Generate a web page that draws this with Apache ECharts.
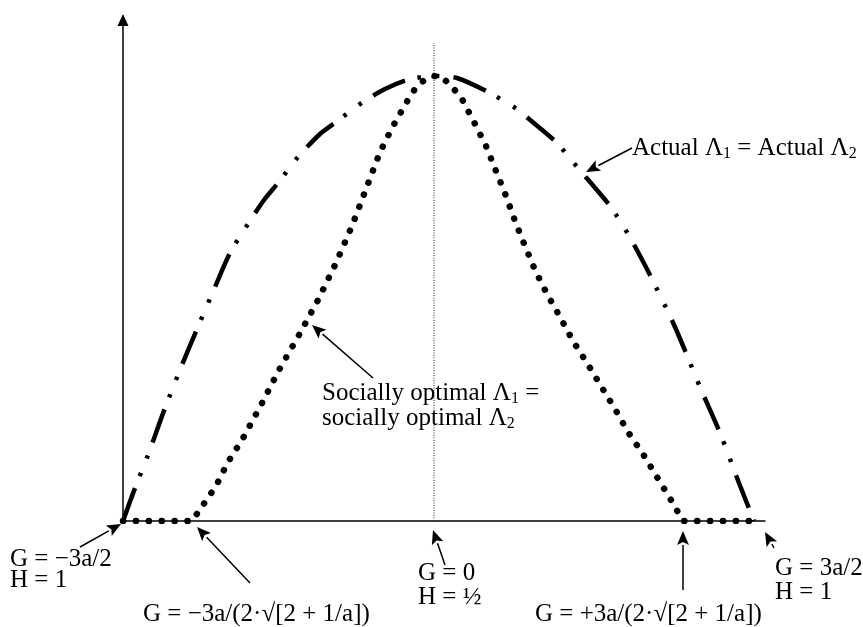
<!DOCTYPE html>
<html>
<head>
<meta charset="utf-8">
<script src="https://cdn.jsdelivr.net/npm/echarts@6/dist/echarts.min.js"></script>
<style>
  html, body { margin: 0; padding: 0; background: #fff; }
  #chart { width: 863px; height: 627px; }
</style>
</head>
<body>
<div id="chart"></div>
<script>
// x: horizontal position relative to G = 0, y: height above the G axis
var actualCurve = [
  [-311, 0], [-299, 33], [-286, 66], [-269, 113], [-252, 156], [-234, 199], [-219, 234],
  [-204, 268], [-186, 297], [-170, 321], [-156, 338], [-136, 364], [-114, 387], [-98, 399],
  [-71, 419], [-49, 432], [-27, 441], [0, 445], [23, 443], [54, 429], [83, 412], [95, 402],
  [122, 379], [144, 353], [176, 315], [194, 287], [216, 246], [241, 194], [266, 134],
  [286, 88], [305, 38], [320, 0]
];
var sociallyCurve = [
  [-311, 0], [-242, 0], [-233, 13], [-218, 35], [-206, 59], [-192, 81], [-173, 116],
  [-155, 151], [-135, 186], [-116, 221], [-98, 258], [-82, 295], [-68, 332], [-54, 369],
  [-42, 393], [-29, 416], [-22, 428], [-14, 438], [-4, 444], [0, 445], [9, 443], [19, 433],
  [28, 422], [40, 399], [52, 375], [62, 350], [72, 325], [81, 300], [91, 275], [101, 251],
  [113, 227], [126, 204], [139, 180], [153, 158], [167, 135], [181, 112], [194, 89],
  [209, 67], [223, 44], [237, 21], [249, 0], [317, 0]
];
var centerLine = [[0, 0], [0, 478]];
var xRange = [-311, 331];
var yRange = [0, 501];

var fontFam = '"Liberation Serif", "Times New Roman", serif';
var fs = 25;

// annotation labels: text, left x, middle y (pixels)
var labels = [
  ['G = \u22123a/2', 10, 559],
  ['H = 1', 10, 580],
  ['G = \u22123a/(2\u00b7\u221a[2 + 1/a])', 143, 614],
  ['G = 0', 418, 573],
  ['H = \u00bd', 418, 597],
  ['G = +3a/(2\u00b7\u221a[2 + 1/a])', 535, 614],
  ['G = 3a/2', 775, 568],
  ['H = 1', 775, 592],
  ['Actual \u039b{s|1} = Actual \u039b{s|2}', 632, 148],
  ['Socially optimal \u039b{s|1} =', 322, 393],
  ['socially optimal \u039b{s|2}', 322, 418]
];
// annotation arrows: tail x, tail y, tip x, tip y (pixels)
var arrows = [
  [80, 547, 121, 524],
  [250, 583, 197, 527],
  [445, 565, 433, 530],
  [683, 590, 683, 531],
  [774, 548, 765, 532],
  [632, 148, 586, 172],
  [373, 378, 312, 325]
];

function arrowParts(a) {
  var dx = a[2] - a[0], dy = a[3] - a[1];
  var len = Math.sqrt(dx * dx + dy * dy);
  var ux = dx / len, uy = dy / len;
  var hl = 14, hw = 6;
  var bx = a[2] - ux * hl, by = a[3] - uy * hl;
  var parts = [];
  if (len > hl) {
    parts.push({
      type: 'line', silent: true,
      shape: { x1: a[0], y1: a[1], x2: bx, y2: by },
      style: { stroke: '#000', lineWidth: 1.5 }
    });
  }
  parts.push({
    type: 'polygon', silent: true,
    shape: { points: [[a[2], a[3]], [bx - uy * hw, by + ux * hw], [bx + ux * 3, by + uy * 3], [bx + uy * hw, by - ux * hw]] },
    style: { fill: '#000' }
  });
  return parts;
}

var graphics = [];
labels.forEach(function (l) {
  graphics.push({
    type: 'text', silent: true, x: l[1], y: l[2],
    style: {
      text: l[0], fill: '#000', font: fs + 'px ' + fontFam,
      align: 'left', verticalAlign: 'middle', lineHeight: 28,
      rich: { s: { fontSize: 16, fontFamily: fontFam, verticalAlign: 'bottom', lineHeight: 28 } }
    }
  });
});
arrows.forEach(function (a) { graphics = graphics.concat(arrowParts(a)); });

var chart = echarts.init(document.getElementById('chart'));
chart.setOption({
  animation: false,
  backgroundColor: '#fff',
  grid: { left: 123, right: 98, top: 20, bottom: 106 },
  xAxis: {
    type: 'value', min: xRange[0], max: xRange[1],
    axisLine: { onZero: false, lineStyle: { color: '#000', width: 1.5 } },
    axisTick: { show: false }, axisLabel: { show: false }, splitLine: { show: false }
  },
  yAxis: {
    type: 'value', min: yRange[0], max: yRange[1],
    axisLine: {
      show: true, onZero: false, symbol: ['none', 'triangle'], symbolSize: [11, 12],
      lineStyle: { color: '#000', width: 1.5 }
    },
    axisTick: { show: false }, axisLabel: { show: false }, splitLine: { show: false }
  },
  series: [
    {
      type: 'line', data: centerLine, symbol: 'none',
      lineStyle: { color: '#222', width: 1, type: [1, 1.5] }
    },
    {
      type: 'line', data: actualCurve, symbol: 'none', smooth: 0.25,
      lineStyle: { color: '#000', width: 4.5, type: [35, 13, 3.5, 15, 3.5, 14], cap: 'butt' }
    },
    {
      type: 'line', data: sociallyCurve, symbol: 'none', smooth: false,
      lineStyle: { color: '#000', width: 6.5, type: [0.1, 12.8], cap: 'round' }
    }
  ],
  graphic: graphics
});
</script>
</body>
</html>
